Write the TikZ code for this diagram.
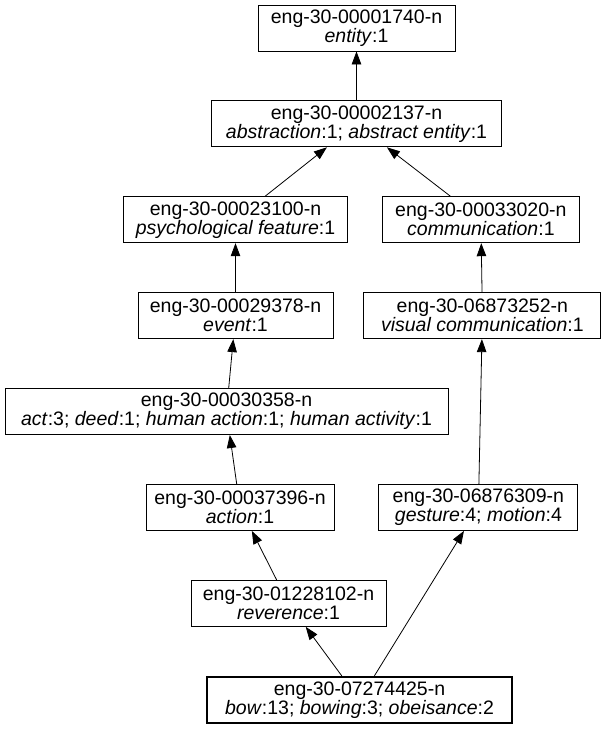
\documentclass[tikz,border=0pt]{standalone}
\usepackage{fontspec}
\setmainfont{Liberation Sans}
\usetikzlibrary{positioning, arrows.meta}

\begin{document}
\begin{tikzpicture}[
    font=\fontsize{19.5pt}{19pt}\selectfont,
    syn/.style={
        rectangle,
        draw=black, line width=0.9pt, fill=white,
        align=center,
        minimum height=46pt,
        inner xsep=4pt, inner ysep=2pt
    },
    hyp/.style={-{Triangle[length=13pt, width=9.5pt]}, line width=0.8pt}
]
\useasboundingbox (0,0) rectangle (606pt,-731pt);

% Bow (start synset)
\node[syn, line width=2.4pt, minimum width=305pt] (bow) at (359.5pt,-700pt) {
    eng-30-07274425-n\\
    \textit{bow}:13; \textit{bowing}:3; \textit{obeisance}:2
};

% Reverence
\node[syn, minimum width=195pt, above=49pt of bow, xshift=-71pt] (reverence) {
    eng-30-01228102-n\\
    \textit{reverence}:1
};

% Action
\node[syn, minimum width=188pt, above=49pt of reverence, xshift=-48.5pt] (action) {
    eng-30-00037396-n\\
    \textit{action}:1
};

% Gesture
\node[syn, minimum width=199pt, right=44pt of action] (gesture) {
    eng-30-06876309-n\\
    \textit{gesture}:4; \textit{motion}:4
};

% Act
\node[syn, minimum width=443pt, above=49pt of action, xshift=-13.5pt] (act) {
    eng-30-00030358-n\\
    \textit{act}:3; \textit{deed}:1; \textit{human action}:1; \textit{human activity}:1
};

% Event
\node[syn, minimum width=195pt, above=49pt of act, xshift=9pt] (event) {
    eng-30-00029378-n\\
    \textit{event}:1
};

% Visual communication
\node[syn, minimum width=237pt, right=30pt of event] (visual) {
    eng-30-06873252-n\\
    \textit{visual communication}:1
};

% Psychological feature
\node[syn, minimum width=224pt, above=49pt of event] (psych) {
    eng-30-00023100-n\\
    \textit{psychological feature}:1
};

% Communication
\node[syn, minimum width=197pt, right=34pt of psych] (communication) {
    eng-30-00033020-n\\
    \textit{communication}:1
};

% Abstraction
\node[syn, minimum width=290pt, above=49pt of psych, xshift=121pt] (abstraction) {
    eng-30-00002137-n\\
    \textit{abstraction}:1; \textit{abstract entity}:1
};

% Entity
\node[syn, minimum width=197pt, above=49pt of abstraction] (entity) {
    eng-30-00001740-n\\
    \textit{entity}:1
};

% Hypernym links
\draw[hyp] (bow) -- (reverence);
\draw[hyp] (bow) -- (gesture);
\draw[hyp] (reverence) -- (action);
\draw[hyp] (action) -- (act);
\draw[hyp] (act) -- (event);
\draw[hyp] (event) -- (psych);
\draw[hyp] (psych) -- (abstraction);
\draw[hyp] (gesture) -- (visual);
\draw[hyp] (visual) -- (communication);
\draw[hyp] (communication) -- (abstraction);
\draw[hyp] (abstraction) -- (entity);

\end{tikzpicture}
\end{document}
